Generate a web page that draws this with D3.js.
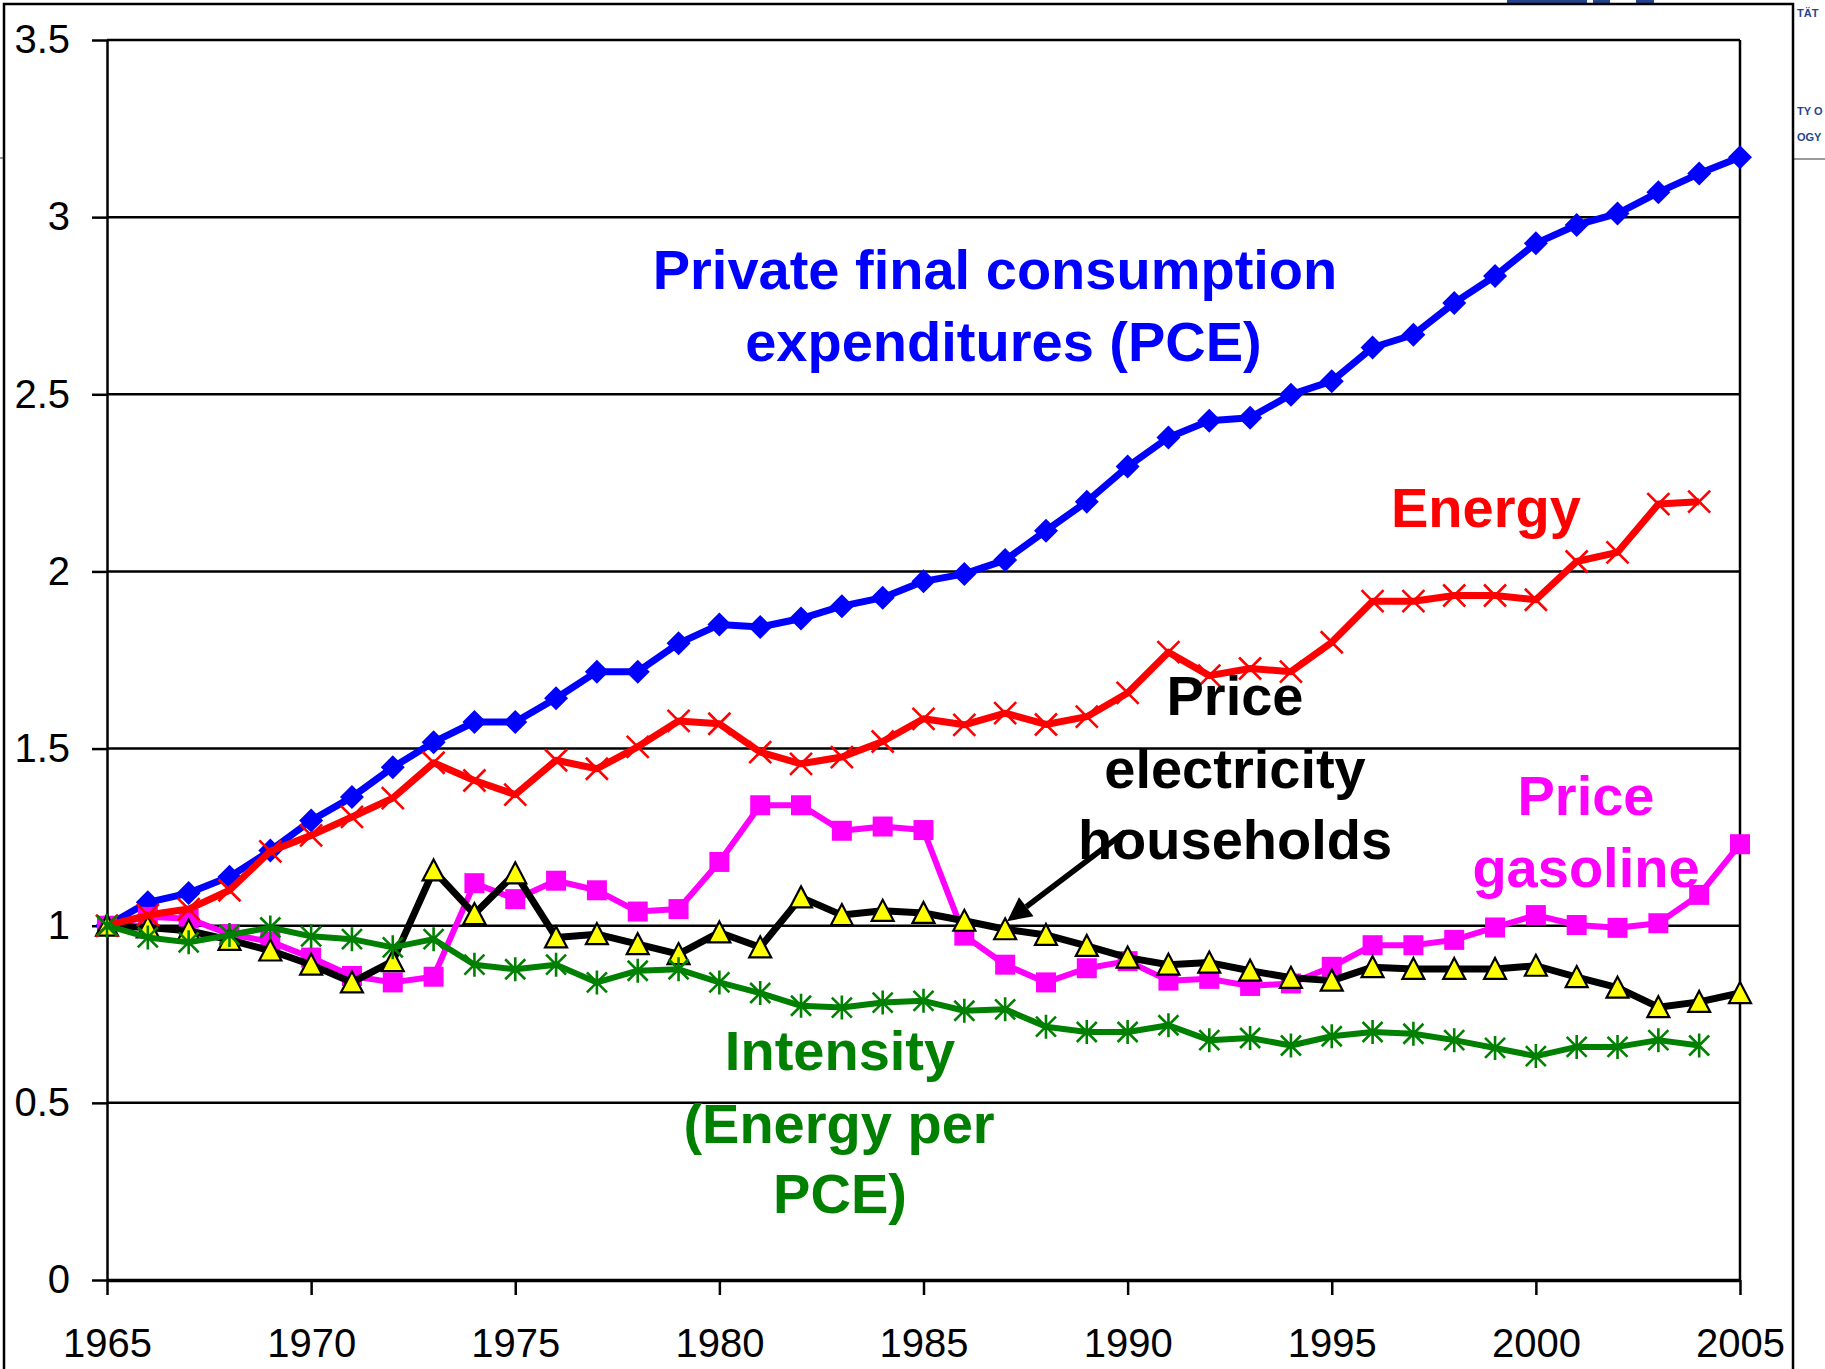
<!DOCTYPE html>
<html>
<head>
<meta charset="utf-8">
<script src="https://cdn.jsdelivr.net/npm/d3@7"></script>
<style>
  html, body { margin: 0; padding: 0; background: #ffffff; }
  svg { display: block; }
  text { font-family: "Liberation Sans", Arial, sans-serif; }
</style>
</head>
<body>
<svg id="chart" width="1825" height="1369"></svg>
<script>
// ---------------- DATA ----------------
const years = d3.range(1965, 2006);           // 1965 .. 2005
const yTicks = [0, 0.5, 1, 1.5, 2, 2.5, 3, 3.5];
const xTicks = [1965, 1970, 1975, 1980, 1985, 1990, 1995, 2000, 2005];

// Private final consumption expenditures (PCE), 1965-2005
const pce = [1.00, 1.066, 1.092, 1.138, 1.212, 1.297, 1.363, 1.447, 1.518, 1.575,
             1.575, 1.642, 1.717, 1.717, 1.797, 1.850, 1.843, 1.867, 1.902, 1.926,
             1.972, 1.993, 2.032, 2.115, 2.197, 2.296, 2.378, 2.425, 2.434, 2.499,
             2.537, 2.632, 2.668, 2.758, 2.834, 2.926, 2.978, 3.010, 3.070, 3.123,
             3.169];
// Energy, 1965-2004
const energy = [1.00, 1.03, 1.047, 1.10, 1.21, 1.255, 1.307, 1.36, 1.46, 1.41,
                1.37, 1.467, 1.443, 1.505, 1.578, 1.570, 1.490, 1.457, 1.476, 1.520,
                1.584, 1.567, 1.600, 1.568, 1.590, 1.657, 1.772, 1.706, 1.726, 1.717,
                1.800, 1.916, 1.916, 1.932, 1.932, 1.920, 2.028, 2.054, 2.190, 2.197];
// Price gasoline, 1965-2005
const gasoline = [1.00, 1.025, 1.02, 0.976, 0.955, 0.91, 0.858, 0.84, 0.856, 1.12,
                  1.075, 1.127, 1.10, 1.04, 1.047, 1.18, 1.34, 1.34, 1.268, 1.28,
                  1.27, 0.972, 0.89, 0.84, 0.88, 0.90, 0.845, 0.85, 0.83, 0.837,
                  0.884, 0.945, 0.945, 0.96, 0.995, 1.03, 1.002, 0.994, 1.007, 1.087,
                  1.23];
// Price electricity households, 1965-2005
const electricity = [1.00, 0.995, 0.986, 0.96, 0.93, 0.89, 0.84, 0.90, 1.156, 1.033,
                     1.148, 0.967, 0.976, 0.948, 0.92, 0.981, 0.939, 1.08, 1.03, 1.042,
                     1.036, 1.014, 0.99, 0.974, 0.943, 0.91, 0.89, 0.896, 0.873, 0.853,
                     0.845, 0.883, 0.878, 0.878, 0.878, 0.887, 0.855, 0.825, 0.77, 0.785,
                     0.81];
// Intensity (Energy per PCE), 1965-2004
const intensity = [1.00, 0.967, 0.953, 0.974, 0.995, 0.97, 0.962, 0.939, 0.962, 0.89,
                   0.877, 0.89, 0.84, 0.873, 0.877, 0.84, 0.81, 0.774, 0.769, 0.783,
                   0.788, 0.76, 0.764, 0.715, 0.70, 0.70, 0.719, 0.677, 0.683, 0.662,
                   0.688, 0.70, 0.695, 0.677, 0.655, 0.632, 0.658, 0.658, 0.677, 0.662];

// ---------------- SETUP ----------------
const svg = d3.select("#chart");
const W = 1825, H = 1369;
const plot = { left: 107, right: 1740, top: 40, bottom: 1280 };

svg.append("rect").attr("width", W).attr("height", H).attr("fill", "#ffffff");

const x = d3.scaleLinear().domain([1965, 2005]).range([plot.left, plot.right]);
const y = d3.scaleLinear().domain([0, 3.5]).range([plot.bottom, plot.top]);

// background slide fragments (top right, outside the frame)
const frag = svg.append("g").attr("fill", "#23468f").attr("font-weight", "bold");
frag.append("rect").attr("x", 1507).attr("y", 0).attr("width", 80).attr("height", 4);
frag.append("rect").attr("x", 1593).attr("y", 0).attr("width", 17).attr("height", 4);
frag.append("rect").attr("x", 1636).attr("y", 0).attr("width", 18).attr("height", 4);
frag.append("text").attr("x", 1797).attr("y", 17).attr("font-size", 11).text("TÄT");
frag.append("text").attr("x", 1797).attr("y", 115).attr("font-size", 11).text("TY O");
frag.append("text").attr("x", 1797).attr("y", 141).attr("font-size", 11).text("OGY");
svg.append("line").attr("x1", 1794).attr("x2", 1825).attr("y1", 159).attr("y2", 159)
   .attr("stroke", "#9a9a9a").attr("stroke-width", 2);
svg.append("line").attr("x1", 0).attr("x2", 4).attr("y1", 158).attr("y2", 158)
   .attr("stroke", "#9a9a9a").attr("stroke-width", 2);

// outer frame
svg.append("rect").attr("x", 4).attr("y", 4).attr("width", 1789).attr("height", 1420)
   .attr("fill", "none").attr("stroke", "#000").attr("stroke-width", 2.5);

// gridlines
svg.append("g").selectAll("line").data(yTicks.filter(d => d > 0)).join("line")
   .attr("x1", plot.left).attr("x2", plot.right)
   .attr("y1", d => y(d)).attr("y2", d => y(d))
   .attr("stroke", "#000").attr("stroke-width", 2.5);

// right border of plot area
svg.append("line").attr("x1", plot.right).attr("x2", plot.right)
   .attr("y1", plot.top).attr("y2", plot.bottom)
   .attr("stroke", "#000").attr("stroke-width", 2.5);

// axes
const yAxis = d3.axisLeft(y).tickValues(yTicks).tickSize(15).tickSizeOuter(0)
   .tickPadding(22).tickFormat(d => String(d));
const gy = svg.append("g").attr("transform", `translate(${plot.left},0)`).call(yAxis);
gy.selectAll("text").attr("font-size", 40).attr("fill", "#000")
   .attr("font-family", "'Liberation Sans', Arial, sans-serif");
gy.selectAll("line").attr("stroke", "#000").attr("stroke-width", 2.5);
gy.select(".domain").attr("stroke", "#000").attr("stroke-width", 2.5);

const xAxis = d3.axisBottom(x).tickValues(xTicks).tickSize(15).tickSizeOuter(0)
   .tickPadding(34).tickFormat(d3.format("d"));
const gx = svg.append("g").attr("transform", `translate(0,${plot.bottom})`).call(xAxis);
gx.selectAll("text").attr("font-size", 40).attr("fill", "#000")
   .attr("font-family", "'Liberation Sans', Arial, sans-serif");
gx.selectAll("line").attr("stroke", "#000").attr("stroke-width", 2.5);
gx.select(".domain").attr("stroke", "#000").attr("stroke-width", 3.5);

// ---------------- SERIES ----------------
const toPts = arr => arr.map((v, i) => ({ year: years[i], value: v }));
const line = d3.line().x(d => x(d.year)).y(d => y(d.value));

const series = [
  { name: "pce", data: toPts(pce), color: "#0000ff", width: 7, marker: "diamond" },
  { name: "gasoline", data: toPts(gasoline), color: "#ff00ff", width: 6, marker: "square" },
  { name: "electricity", data: toPts(electricity), color: "#000000", width: 7, marker: "triangle" },
  { name: "energy", data: toPts(energy), color: "#ff0000", width: 7, marker: "x" },
  { name: "intensity", data: toPts(intensity), color: "#008000", width: 6, marker: "star" }
];

const markerPaths = {
  diamond: "M0,-12L12,0L0,12L-12,0Z",
  square: "M-10,-10H10V10H-10Z",
  triangle: "M0,-11L11,10L-11,10Z",
  x: "M-11,-11L11,11M-11,11L11,-11",
  star: "M-10,-10L10,10M-10,10L10,-10M0,-12V12"
};

series.forEach(s => {
  const g = svg.append("g").attr("class", s.name);
  g.append("path").datum(s.data).attr("d", line)
   .attr("fill", "none").attr("stroke", s.color).attr("stroke-width", s.width)
   .attr("stroke-linejoin", "round");
  const m = g.selectAll("path.m").data(s.data).join("path").attr("class", "m")
   .attr("transform", d => `translate(${x(d.year)},${y(d.value)})`)
   .attr("d", markerPaths[s.marker]);
  if (s.marker === "diamond" || s.marker === "square") {
    m.attr("fill", s.color).attr("stroke", "none");
  } else if (s.marker === "triangle") {
    m.attr("fill", "#ffff00").attr("stroke", "#000").attr("stroke-width", 2.2)
     .attr("stroke-linejoin", "miter");
  } else {
    m.attr("fill", "none").attr("stroke", s.color).attr("stroke-width", 2.6);
  }
});

// ---------------- LABELS ----------------
function label(lines, color) {
  const g = svg.append("g").attr("fill", color).attr("font-size", 56).attr("font-weight", "bold");
  lines.forEach(l => {
    g.append("text").attr("x", l[0]).attr("y", l[1]).attr("text-anchor", l[3] || "middle").text(l[2]);
  });
}
label([[995, 289, "Private final consumption"], [1003.5, 361, "expenditures (PCE)"]], "#0000ff");
label([[1391, 527, "Energy", "start"]], "#ff0000");
label([[1235, 715, "Price"], [1235, 788, "electricity"], [1235, 859, "households"]], "#000000");
label([[1586, 815, "Price"], [1586, 887, "gasoline"]], "#ff00ff");
label([[840, 1070, "Intensity"], [839, 1143, "(Energy per"], [840, 1213, "PCE)"]], "#008000");

// arrow to electricity series
const arrowFrom = [1125, 832], arrowTo = [x(1987) + 2, y(electricity[22]) - 8];
const ang = Math.atan2(arrowTo[1] - arrowFrom[1], arrowTo[0] - arrowFrom[0]);
const headLen = 24, headW = 12;
const bx = arrowTo[0] - headLen * Math.cos(ang), by = arrowTo[1] - headLen * Math.sin(ang);
svg.append("line").attr("x1", arrowFrom[0]).attr("y1", arrowFrom[1]).attr("x2", bx).attr("y2", by)
   .attr("stroke", "#000").attr("stroke-width", 5.5);
svg.append("path")
   .attr("d", `M${arrowTo[0]},${arrowTo[1]}L${bx + headW * Math.sin(ang)},${by - headW * Math.cos(ang)}L${bx - headW * Math.sin(ang)},${by + headW * Math.cos(ang)}Z`)
   .attr("fill", "#000");
</script>
</body>
</html>
